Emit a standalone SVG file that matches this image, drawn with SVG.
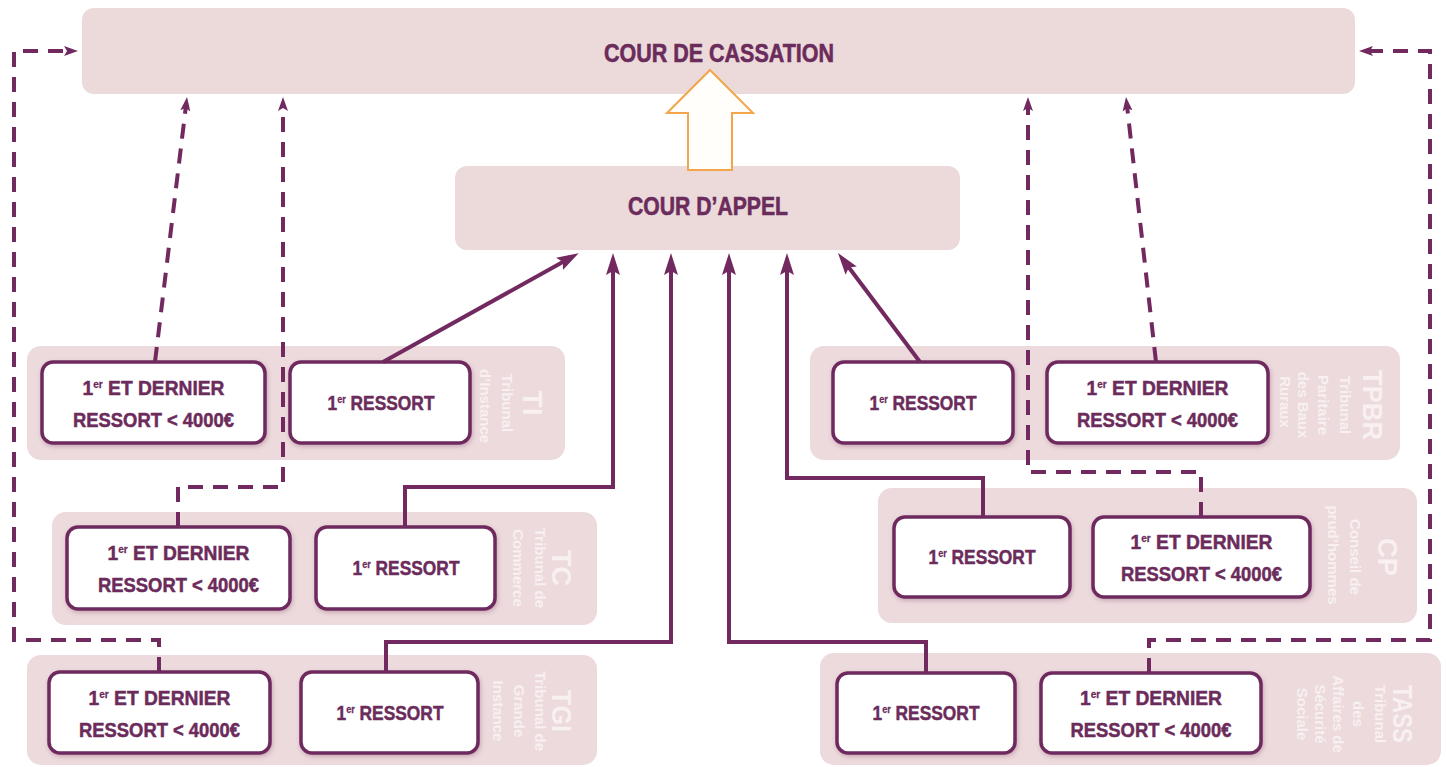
<svg xmlns="http://www.w3.org/2000/svg" width="1446" height="767" viewBox="0 0 1446 767">
<defs>
<style>
.court{fill:#ecdadb}
.bg{fill:#ecdadc}
.box{fill:#ffffff;stroke:#6e2a5f;stroke-width:3.5;filter:url(#sh)}
.t{font-family:"Liberation Sans",Arial,sans-serif;font-weight:bold;font-size:21px;fill:#6b2b5b;stroke:#6b2b5b;stroke-width:0.5;text-anchor:middle}
.ct{font-family:"Liberation Sans",Arial,sans-serif;font-weight:bold;font-size:26px;fill:#6b2b5b;stroke:#6b2b5b;stroke-width:0.6;text-anchor:middle}
.sup{font-size:11px;stroke-width:0.3}
.lbl{font-family:"Liberation Sans",Arial,sans-serif;font-weight:bold;font-size:15px;fill:#f8f0f1;text-anchor:middle}
.big{font-size:28px}
.solid{fill:none;stroke:#72295f;stroke-width:4;marker-end:url(#a)}
.dash{fill:none;stroke:#72295f;stroke-width:4;stroke-dasharray:15 10;marker-end:url(#ad)}
.hollow{fill:#fffefb;stroke:#f2a54a;stroke-width:2;stroke-linejoin:miter}
</style>
<filter id="sh" x="-10%" y="-10%" width="120%" height="130%">
<feDropShadow dx="1" dy="2" stdDeviation="2" flood-color="#8a4a70" flood-opacity="0.35"/>
</filter>
<marker id="a" markerUnits="userSpaceOnUse" markerWidth="24" markerHeight="16" viewBox="0 0 24 16" refX="12" refY="8" orient="auto">
<path d="M0,1 L22,8 L0,15 L4,8 z" fill="#72295f"/>
</marker>
<marker id="ad" markerUnits="userSpaceOnUse" markerWidth="16" markerHeight="12" viewBox="0 0 16 12" refX="8" refY="6" orient="auto">
<path d="M0,1 L14,6 L0,11 L3,6 z" fill="#72295f"/>
</marker>
</defs>

<g id="cour-cassation">
<rect class="court" x="82" y="8" width="1273" height="86" rx="12"/>
<text class="ct" x="719" y="62" textLength="230" lengthAdjust="spacingAndGlyphs">COUR DE CASSATION</text>
</g>

<g id="cour-appel">
<rect class="court" x="455" y="166" width="505" height="84" rx="12"/>
<text class="ct" x="708" y="215" textLength="160" lengthAdjust="spacingAndGlyphs">COUR D’APPEL</text>
</g>

<!-- TI -->
<g id="ti">
<rect class="bg" x="27" y="346" width="538" height="114" rx="14"/>
<text class="lbl big" transform="translate(523,403) rotate(90)" textLength="25" lengthAdjust="spacingAndGlyphs">TI</text>
<text class="lbl" transform="translate(501.5,403) rotate(90)">Tribunal</text>
<text class="lbl" transform="translate(479.5,406) rotate(90)">d’Instance</text>
<g id="ti-dernier">
<rect class="box" x="42" y="362" width="223" height="81" rx="11"/>
<text class="t" x="153.5" y="395" textLength="142" lengthAdjust="spacingAndGlyphs">1<tspan class="sup" dy="-7">er</tspan><tspan dy="7">  ET DERNIER</tspan></text>
<text class="t" x="153.5" y="427" textLength="161" lengthAdjust="spacingAndGlyphs">RESSORT &lt; 4000€</text>
</g>
<g id="ti-ressort">
<rect class="box" x="290" y="362" width="180" height="81" rx="11"/>
<text class="t" x="381" y="410" textLength="107" lengthAdjust="spacingAndGlyphs">1<tspan class="sup" dy="-7">er</tspan><tspan dy="7"> RESSORT</tspan></text>
</g>
</g>

<!-- TC -->
<g id="tc">
<rect class="bg" x="52" y="512" width="545" height="113" rx="14"/>
<text class="lbl big" transform="translate(552,568) rotate(90)" textLength="36" lengthAdjust="spacingAndGlyphs">TC</text>
<text class="lbl" transform="translate(534.5,568) rotate(90)">Tribunal de</text>
<text class="lbl" transform="translate(512.5,568) rotate(90)">Commerce</text>
<g id="tc-dernier">
<rect class="box" x="67" y="527" width="223" height="82" rx="11"/>
<text class="t" x="178.5" y="560" textLength="142" lengthAdjust="spacingAndGlyphs">1<tspan class="sup" dy="-7">er</tspan><tspan dy="7">  ET DERNIER</tspan></text>
<text class="t" x="178.5" y="592" textLength="161" lengthAdjust="spacingAndGlyphs">RESSORT &lt; 4000€</text>
</g>
<g id="tc-ressort">
<rect class="box" x="316" y="527" width="179" height="82" rx="11"/>
<text class="t" x="406" y="575" textLength="107" lengthAdjust="spacingAndGlyphs">1<tspan class="sup" dy="-7">er</tspan><tspan dy="7"> RESSORT</tspan></text>
</g>
</g>

<!-- TGI -->
<g id="tgi">
<rect class="bg" x="27" y="655" width="570" height="110" rx="14"/>
<text class="lbl big" transform="translate(552,711) rotate(90)" textLength="42" lengthAdjust="spacingAndGlyphs">TGI</text>
<text class="lbl" transform="translate(534.5,711) rotate(90)">Tribunal de</text>
<text class="lbl" transform="translate(513.5,711) rotate(90)">Grande</text>
<text class="lbl" transform="translate(492.5,711) rotate(90)">Instance</text>
<g id="tgi-dernier">
<rect class="box" x="49" y="672" width="221" height="81" rx="11"/>
<text class="t" x="159.5" y="705" textLength="142" lengthAdjust="spacingAndGlyphs">1<tspan class="sup" dy="-7">er</tspan><tspan dy="7">  ET DERNIER</tspan></text>
<text class="t" x="159.5" y="737" textLength="161" lengthAdjust="spacingAndGlyphs">RESSORT &lt; 4000€</text>
</g>
<g id="tgi-ressort">
<rect class="box" x="301" y="672" width="177" height="81" rx="11"/>
<text class="t" x="390" y="720" textLength="107" lengthAdjust="spacingAndGlyphs">1<tspan class="sup" dy="-7">er</tspan><tspan dy="7"> RESSORT</tspan></text>
</g>
</g>

<!-- TPBR -->
<g id="tpbr">
<rect class="bg" x="810" y="346" width="590" height="114" rx="14"/>
<text class="lbl big" transform="translate(1363,405) rotate(90)" textLength="70" lengthAdjust="spacingAndGlyphs">TPBR</text>
<text class="lbl" transform="translate(1339.5,405) rotate(90)">Tribunal</text>
<text class="lbl" transform="translate(1317.5,405) rotate(90)">Paritaire</text>
<text class="lbl" transform="translate(1297.5,405) rotate(90)">des Baux</text>
<text class="lbl" transform="translate(1279.5,402) rotate(90)">Ruraux</text>
<g id="tpbr-ressort">
<rect class="box" x="833" y="362" width="180" height="81" rx="11"/>
<text class="t" x="923" y="410" textLength="107" lengthAdjust="spacingAndGlyphs">1<tspan class="sup" dy="-7">er</tspan><tspan dy="7"> RESSORT</tspan></text>
</g>
<g id="tpbr-dernier">
<rect class="box" x="1047" y="362" width="221" height="81" rx="11"/>
<text class="t" x="1157.5" y="395" textLength="142" lengthAdjust="spacingAndGlyphs">1<tspan class="sup" dy="-7">er</tspan><tspan dy="7">  ET DERNIER</tspan></text>
<text class="t" x="1157.5" y="427" textLength="161" lengthAdjust="spacingAndGlyphs">RESSORT &lt; 4000€</text>
</g>
</g>

<!-- CP -->
<g id="cp">
<rect class="bg" x="878" y="488" width="539" height="135" rx="14"/>
<text class="lbl big" transform="translate(1378,557) rotate(90)" textLength="38" lengthAdjust="spacingAndGlyphs">CP</text>
<text class="lbl" transform="translate(1349.5,557) rotate(90)">Conseil de</text>
<text class="lbl" transform="translate(1327.5,555) rotate(90)">prud’hommes</text>
<g id="cp-ressort">
<rect class="box" x="894" y="517" width="176" height="80" rx="11"/>
<text class="t" x="982" y="564" textLength="107" lengthAdjust="spacingAndGlyphs">1<tspan class="sup" dy="-7">er</tspan><tspan dy="7"> RESSORT</tspan></text>
</g>
<g id="cp-dernier">
<rect class="box" x="1093" y="517" width="217" height="80" rx="11"/>
<text class="t" x="1201.5" y="549" textLength="142" lengthAdjust="spacingAndGlyphs">1<tspan class="sup" dy="-7">er</tspan><tspan dy="7">  ET DERNIER</tspan></text>
<text class="t" x="1201.5" y="581" textLength="161" lengthAdjust="spacingAndGlyphs">RESSORT &lt; 4000€</text>
</g>
</g>

<!-- TASS -->
<g id="tass">
<rect class="bg" x="820" y="653" width="621" height="112" rx="14"/>
<text class="lbl big" transform="translate(1393,714) rotate(90)" textLength="58" lengthAdjust="spacingAndGlyphs">TASS</text>
<text class="lbl" transform="translate(1374.5,714) rotate(90)">Tribunal</text>
<text class="lbl" transform="translate(1352.5,714) rotate(90)">des</text>
<text class="lbl" transform="translate(1332.5,714) rotate(90)">Affaires de</text>
<text class="lbl" transform="translate(1314.5,714) rotate(90)">Sécurité</text>
<text class="lbl" transform="translate(1296.5,714) rotate(90)">Sociale</text>
<g id="tass-ressort">
<rect class="box" x="837" y="673" width="178" height="80" rx="11"/>
<text class="t" x="926" y="720" textLength="107" lengthAdjust="spacingAndGlyphs">1<tspan class="sup" dy="-7">er</tspan><tspan dy="7"> RESSORT</tspan></text>
</g>
<g id="tass-dernier">
<rect class="box" x="1041" y="673" width="220" height="80" rx="11"/>
<text class="t" x="1151" y="705" textLength="142" lengthAdjust="spacingAndGlyphs">1<tspan class="sup" dy="-7">er</tspan><tspan dy="7">  ET DERNIER</tspan></text>
<text class="t" x="1151" y="737" textLength="161" lengthAdjust="spacingAndGlyphs">RESSORT &lt; 4000€</text>
</g>
</g>

<g id="connectors">
<path class="hollow" d="M710,70 L753,113 L732,113 L732,170 L688,170 L688,113 L667,113 Z"/>
<path class="solid" d="M383,362 L570,258"/>
<path class="solid" d="M405,527 V487 H613 V263"/>
<path class="solid" d="M386,672 V642 H671 V263"/>
<path class="solid" d="M926,673 V642 H729 V263"/>
<path class="solid" d="M983,517 V478 H787 V263"/>
<path class="solid" d="M920,362 L844,261"/>
<path class="dash" d="M155,362 L186.3,103"/>
<path class="dash" d="M178,527 V487 H283 V103"/>
<path class="dash" d="M159,672 V640 H14 V51 H72"/>
<path class="dash" d="M1156,362 L1126.7,103"/>
<path class="dash" d="M1201,517 V472 H1028 V103"/>
<path class="dash" d="M1149,673 V640 H1430 V51 H1365"/>
</g>
</svg>
